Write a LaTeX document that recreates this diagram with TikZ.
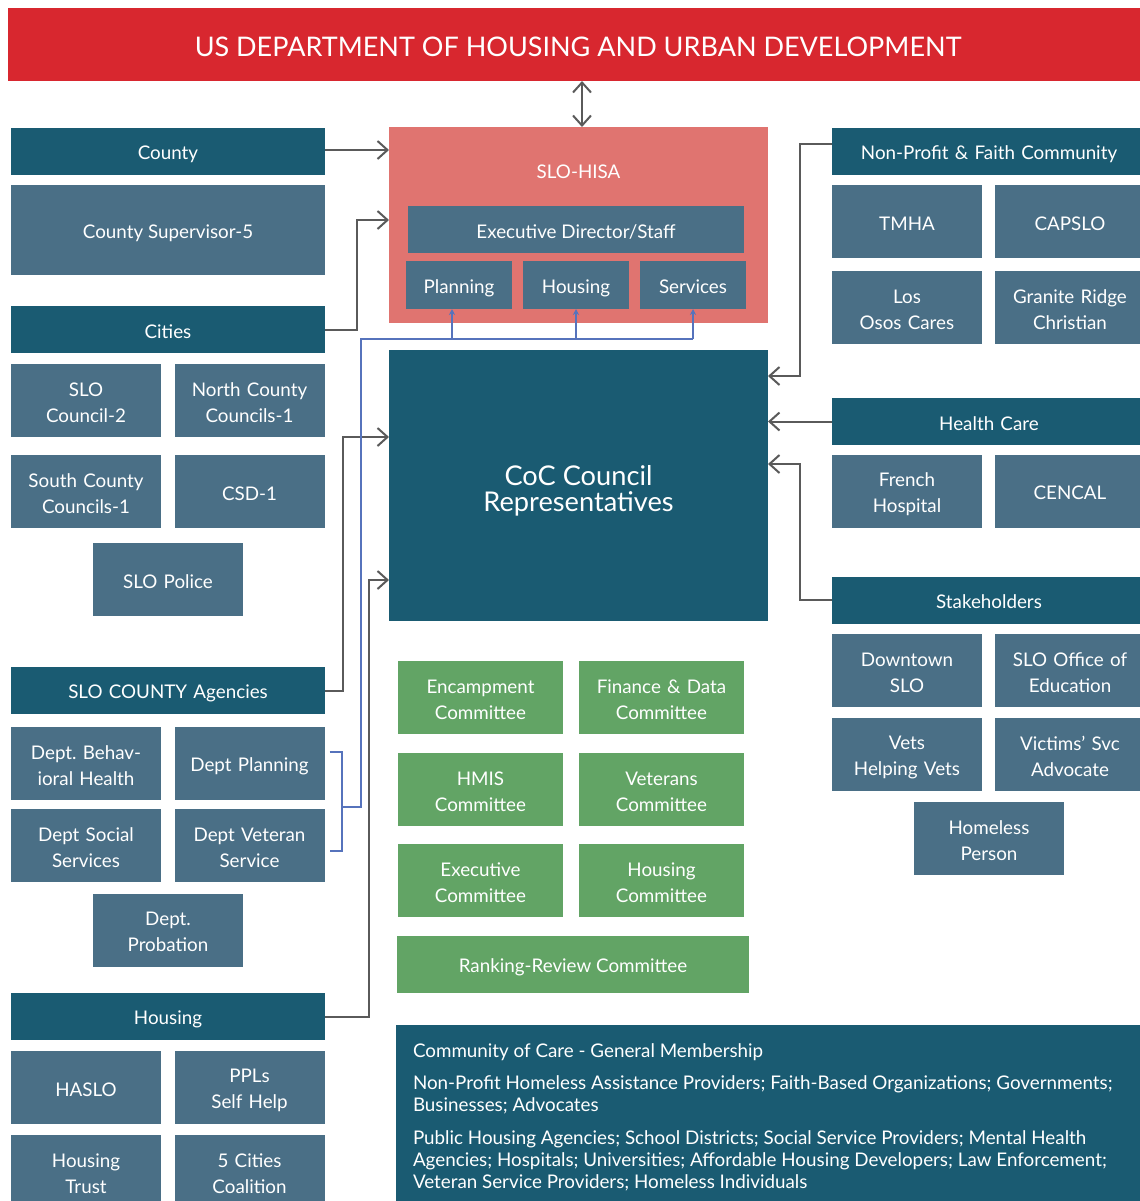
\documentclass[tikz,border=0pt]{standalone}
\usepackage{fontspec}
\setmainfont{Lato}
\usetikzlibrary{arrows.meta}
\definecolor{hudred}{HTML}{D8272F}
\definecolor{hisapink}{HTML}{E07470}
\definecolor{darkteal}{HTML}{1A5B72}
\definecolor{midteal}{HTML}{4A6F86}
\definecolor{comgreen}{HTML}{62A465}
\definecolor{linegray}{HTML}{5A5A5A}
\definecolor{linkblue}{HTML}{5673BC}
\frenchspacing

\begin{document}
\begin{tikzpicture}[x=0.5pt,y=-0.5pt,
  every node/.style={inner sep=0pt, outer sep=0pt, text=white, align=center,
    font=\fontsize{9.4}{13}\selectfont,
    execute at begin node={\rule{0pt}{10pt}},
    execute at end node={\rule[-1.5pt]{0pt}{1.5pt}}},
  hd/.style={fill=darkteal, minimum width=157pt, minimum height=23.5pt, text width=157pt},
  sb/.style={fill=midteal, minimum width=75pt, minimum height=36.5pt, text width=75pt},
  gbox/.style={fill=comgreen, minimum width=82.5pt, minimum height=36.5pt, text width=82.5pt},
  subbox/.style={fill=midteal, minimum width=53pt, minimum height=24pt, text width=53pt},
  link/.style={draw=linegray, line width=1pt, -{Straight Barb[length=5pt,width=9pt]}},
  bline/.style={draw=linkblue, line width=0.6pt}]
\path[use as bounding box, clip] (0,0) rectangle (1140,1201);

\node[fill=hudred, minimum width=570pt, minimum height=36.5pt, font=\fontsize{13.5}{15}\selectfont,
  execute at begin node={\rule{0pt}{13.7pt}}, execute at end node={}] (hud) at (578,44.5) {US DEPARTMENT OF HOUSING AND URBAN DEVELOPMENT};

\node[fill=hisapink, minimum width=189.5pt, minimum height=98pt] (hisa) at (578.5,225) {};
\node (hisalbl) at (578.5,170) {SLO-HISA};
\node[fill=midteal, minimum width=168pt, minimum height=23.5pt] (exec) at (576,229.5) {Executive Director/Staff};
\node[subbox] (planning) at (459,285) {Planning};
\node[subbox] (hsg) at (576,285) {Housing};
\node[subbox] (services) at (693,285) {Services};

\node[fill=darkteal, minimum width=189.5pt, minimum height=135.5pt] (coc) at (578.5,485.5) {};
\node[font=\fontsize{13.6}{13}\selectfont] (coclbl) at (578.5,491) {CoC Council\\Representatives};

\node[gbox] (encamp) at (480.5,697.5) {Encampment\\Committee};
\node[gbox] (findata) at (661.5,697.5) {Finance \& Data\\Committee};
\node[gbox] (hmis) at (480.5,789.5) {HMIS\\Committee};
\node[gbox] (vets) at (661.5,789.5) {Veterans\\Committee};
\node[gbox] (execc) at (480.5,880.5) {Executive\\Committee};
\node[gbox] (housc) at (661.5,880.5) {Housing\\Committee};
\node[fill=comgreen, minimum width=176pt, minimum height=28.5pt] (rank) at (573,964.5) {Ranking-Review Committee};

\node[fill=darkteal, minimum width=372pt, minimum height=90pt] (gm) at (768,1115) {};
\node[anchor=north west, align=left, font=\fontsize{9.4}{11}\selectfont] (gmtext) at (413,1044) {Community of Care - General Membership\\[5pt]
Non-Profit Homeless Assistance Providers; Faith-Based Organizations; Governments;\\
Businesses; Advocates\\[5.5pt]
Public Housing Agencies; School Districts; Social Service Providers; Mental Health\\
Agencies; Hospitals; Universities; Affordable Housing Developers; Law Enforcement;\\
Veteran Service Providers; Homeless Individuals};

\node[hd] (county) at (168,151.5) {County};
\node[fill=midteal, minimum width=157pt, minimum height=45pt] (super) at (168,230) {County Supervisor-5};
\node[hd] (cities) at (168,329.5) {Cities};
\node[sb] (sloc) at (86,400.5) {SLO\\Council-2};
\node[sb] (ncc) at (249.5,400.5) {North County\\Councils-1};
\node[sb] (scc) at (86,491.5) {South County\\Councils-1};
\node[sb] (csd) at (249.5,491.5) {CSD-1};
\node[sb] (police) at (168,579.5) {SLO Police};
\node[hd] (agencies) at (168,690.5) {SLO COUNTY Agencies};
\node[sb] (dbh) at (86,763.5) {Dept. Behav-\\ioral Health};
\node[sb] (dplan) at (249.5,763.5) {Dept Planning};
\node[sb] (dss) at (86,845.5) {Dept Social\\Services};
\node[sb] (dvet) at (249.5,845.5) {Dept Veteran\\Service};
\node[sb] (prob) at (168,930) {Dept.\\Probation};
\node[hd] (housing) at (168,1016.5) {Housing};
\node[sb] (haslo) at (86,1087.5) {HASLO};
\node[sb] (ppl) at (249.5,1087.5) {PPLs\\Self Help};
\node[sb] (htrust) at (86,1171.5) {Housing\\Trust};
\node[sb] (fivec) at (249.5,1171.5) {5 Cities\\Coalition};

\node[hd] (nonprofit) at (989,151.5) {Non-Profit \& Faith Community};
\node[sb] (tmha) at (907,221.5) {TMHA};
\node[sb] (capslo) at (1070,221.5) {CAPSLO};
\node[sb] (losos) at (907,307.5) {Los\\Osos Cares};
\node[sb] (granite) at (1070,307.5) {Granite Ridge\\Christian};
\node[hd] (health) at (989,421.5) {Health Care};
\node[sb] (french) at (907,491) {French\\Hospital};
\node[sb] (cencal) at (1070,491) {CENCAL};
\node[hd] (stake) at (989,600) {Stakeholders};
\node[sb] (downtown) at (907,670.5) {Downtown\\SLO};
\node[sb] (sloedu) at (1070,670.5) {SLO Office of\\Education};
\node[sb] (vhv) at (907,754.5) {Vets\\Helping Vets};
\node[sb] (victims) at (1070,754.5) {Victims' Svc\\Advocate};
\node[sb] (homeless) at (989,838.5) {Homeless\\Person};

\draw[link, {Straight Barb[length=5pt,width=9pt]}-{Straight Barb[length=5pt,width=9pt]}] ([xshift=2pt]hud.south) -- ([xshift=1.75pt]hisa.north);
\draw[link] ([yshift=0.75pt]county.east) -- ([yshift=0.75pt]county.east -| hisa.west);
\draw[link] (cities.east) -- ++(32,0) |- ([yshift=2.5pt]hisa.west);
\draw[link] (agencies.east) -- ++(18,0) |- ([yshift=24.25pt]coc.west);
\draw[link] (housing.east) -- ++(44,0) |- ([yshift=-47.25pt]coc.west);
\draw[link] ([yshift=3.75pt]nonprofit.west) -- ++(-32,0) |- ([yshift=54.75pt]coc.east);
\draw[link] (health.west) -- (health.west -| coc.east);
\draw[link] (stake.west) -- ++(-32,0) |- ([yshift=10.75pt]coc.east);

\coordinate (bus) at (361,339);
\coordinate (brk) at (342,807);
\draw[bline] ([xshift=2.5pt,yshift=5.75pt]dplan.east) -| (brk) |- ([xshift=2.5pt,yshift=-2.75pt]dvet.east);
\draw[bline] (brk) -| (bus) -- (bus -| services.south);
\foreach \n/\dx in {planning/-3.5pt, hsg/0pt, services/0pt}
  \draw[bline, -{Stealth[length=3pt,width=3pt]}] ([xshift=\dx]bus -| \n.south) -- ([xshift=\dx]\n.south);
\end{tikzpicture}
\end{document}
